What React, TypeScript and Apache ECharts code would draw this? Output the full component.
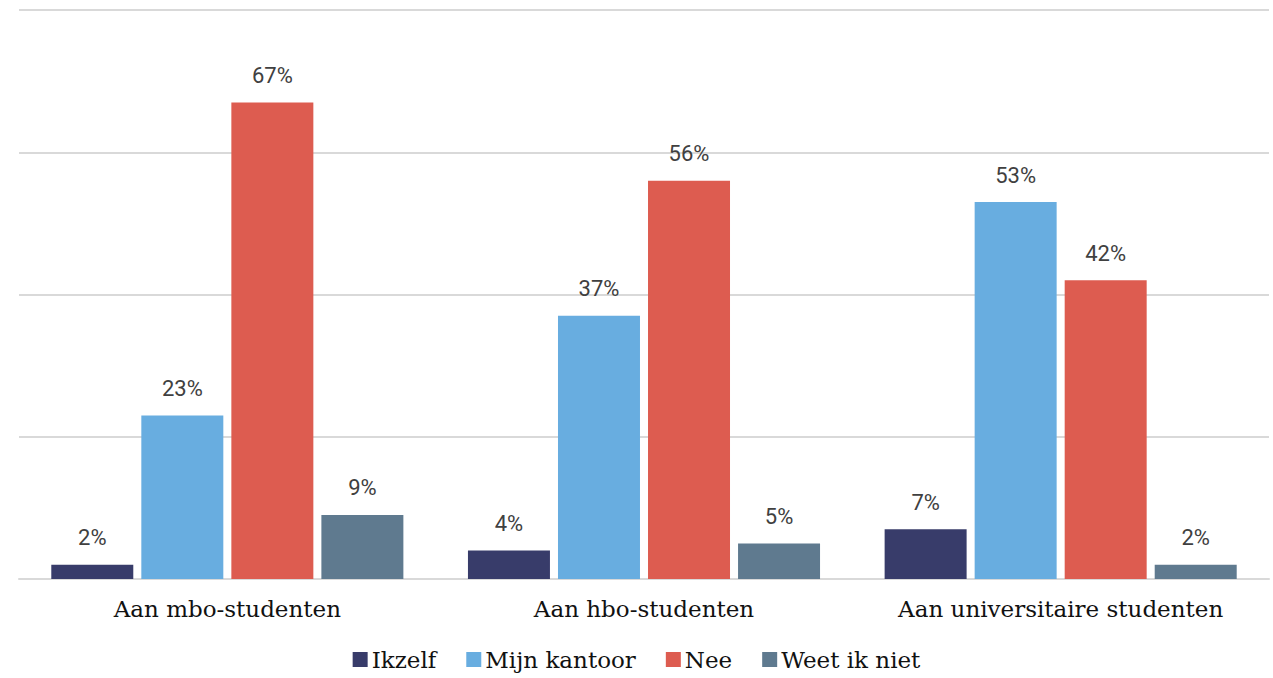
import React, { useEffect, useRef } from "react";
import * as echarts from "echarts";

const categories = ["Aan mbo-studenten", "Aan hbo-studenten", "Aan universitaire studenten"];
const seriesNames = ["Ikzelf", "Mijn kantoor", "Nee", "Weet ik niet"];
const ikzelf = [2, 4, 7];
const mijnKantoor = [23, 37, 53];
const nee = [67, 56, 42];
const weetIkNiet = [9, 5, 2];
const colors = ["#383c6a", "#68ade0", "#dd5c50", "#5f7a8f"];

export default function App() {
  const ref = useRef<HTMLDivElement>(null);
  useEffect(() => {
    if (!ref.current) return;
    const chart = echarts.init(ref.current, undefined, { renderer: "svg" });
    const data = [ikzelf, mijnKantoor, nee, weetIkNiet];
    chart.setOption({
      animation: false,
      backgroundColor: "#ffffff",
      grid: { left: 19, right: 4, top: 10, bottom: 99, containLabel: false },
      legend: {
        bottom: 2,
        left: "center",
        itemWidth: 15,
        itemHeight: 15,
        itemGap: 30,
        icon: "rect",
        textStyle: { fontFamily: "DejaVu Serif", fontSize: 23, color: "#111111", padding: [0, 0, 0, -1] },
        data: seriesNames,
      },
      xAxis: {
        type: "category",
        data: categories,
        axisTick: { show: false },
        axisLine: { lineStyle: { color: "#d9d9d9", width: 2 } },
        axisLabel: { interval: 0, fontFamily: "DejaVu Serif", fontSize: 23, color: "#111111", margin: 18 },
      },
      yAxis: {
        type: "value",
        min: 0,
        max: 80,
        interval: 20,
        axisLabel: { show: false },
        axisLine: { show: false },
        axisTick: { show: false },
        splitLine: { lineStyle: { color: "#d9d9d9", width: 2 } },
      },
      series: seriesNames.map((name, i) => ({
        name,
        type: "bar",
        data: data[i],
        itemStyle: { color: colors[i] },
        barGap: "9.8%",
        barCategoryGap: "15.5%",
        label: {
          show: true,
          position: "top",
          distance: 16,
          formatter: "{c}%",
          fontFamily: "Roboto",
          fontSize: 22,
          color: "#404040",
        },
      })),
    });
    return () => chart.dispose();
  }, []);
  return (
    <div
      ref={ref}
      style={{ position: "absolute", left: 0, top: 0, width: 1273, height: 678 }}
    />
  );
}
